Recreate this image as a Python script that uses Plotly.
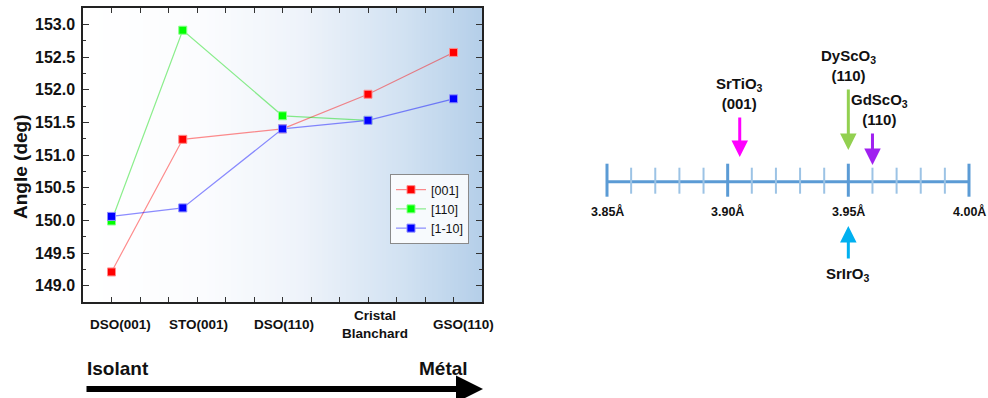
import plotly.graph_objects as go
import numpy as np

# ---------------- data ----------------
categories = ["DSO(001)", "STO(001)", "DSO(110)", "Cristal<br>Blanchard", "GSO(110)"]
cat_x = [0, 2.5, 6, 9, 12]            # position of each sample on the x axis
label_x = [0.3, 3.05, 6.05, 9.25, 12.35]  # where the sample names are written
series_names = ["[001]", "[110]", "[1-10]"]
angle_001 = [149.21, 151.24, 151.40, 151.93, 152.57]
angle_110 = [149.99, 152.91, 151.60, 151.53, None]
angle_1m10 = [150.06, 150.19, 151.40, 151.53, 151.86]
y_tick_vals = [149.0, 149.5, 150.0, 150.5, 151.0, 151.5, 152.0, 152.5, 153.0]

substrate_names = ["SrTiO<sub>3</sub><br>(001)", "DyScO<sub>3</sub><br>(110)",
                   "GdScO<sub>3</sub><br>(110)", "SrIrO<sub>3</sub>"]
substrate_a = [3.905, 3.95, 3.96, 3.95]      # pseudo-cubic lattice parameter (Å)
scale_major = [3.85, 3.90, 3.95, 4.00]
scale_minor = [3.86, 3.87, 3.88, 3.89, 3.91, 3.92, 3.93, 3.94,
               3.96, 3.97, 3.98, 3.99]
scale_labels = ["3.85Å", "3.90Å", "3.95Å", "4.00Å"]

FONT = "Liberation Sans, Arial, sans-serif"
W, H = 988, 398


def PX(x):
    return x / W


def PY(y):
    return (H - y) / H


fig = go.Figure()

# gradient background of the left panel
nb = 200
xe = np.linspace(-1, 13, nb + 1)
zc = np.linspace(0, 1, nb)
fig.add_trace(go.Heatmap(
    x=xe, y=[148.75, 153.25], z=[zc],
    colorscale=[[0, "#ffffff"], [0.3, "#fbfcfe"], [0.55, "#eef3fa"], [0.8, "#d2e2f2"], [1, "#b5cfe9"]],
    showscale=False, hoverinfo="skip", xaxis="x", yaxis="y"))

series = [(angle_001, "#ff0000", "rgba(255,0,0,0.45)", "#ff8c8c"),
          (angle_110, "#00ff00", "rgba(0,220,0,0.45)", "#8cff8c"),
          (angle_1m10, "#0000ff", "rgba(0,0,255,0.45)", "#8c8cff")]
for name, (vals, mc, lc, mlc) in zip(series_names, series):
    fig.add_trace(go.Scatter(
        x=cat_x, y=vals, name=name, mode="lines+markers",
        line=dict(color=lc, width=1.2),
        marker=dict(symbol="square", size=8, color=mc, line=dict(color=mlc, width=1)),
        xaxis="x", yaxis="y", connectgaps=False))

# number line of the right panel (y2 is in page pixels)
Y_LINE = 181.7
fig.add_trace(go.Scatter(x=[scale_major[0], scale_major[-1]], y=[Y_LINE, Y_LINE],
                         mode="lines", line=dict(color="#5b9bd5", width=3),
                         xaxis="x2", yaxis="y2", showlegend=False, hoverinfo="skip"))
mx, my = [], []
for v in scale_minor:
    mx += [v, v, None]
    my += [Y_LINE - 14, Y_LINE + 12, None]
fig.add_trace(go.Scatter(x=mx, y=my, mode="lines", line=dict(color="#9cc3e5", width=2),
                         xaxis="x2", yaxis="y2", showlegend=False, hoverinfo="skip"))
Mx, My = [], []
for v in scale_major:
    Mx += [v, v, None]
    My += [Y_LINE - 18, Y_LINE + 15, None]
fig.add_trace(go.Scatter(x=Mx, y=My, mode="lines", line=dict(color="#5b9bd5", width=3),
                         xaxis="x2", yaxis="y2", showlegend=False, hoverinfo="skip"))

ann = []
# category names
for lx, c in zip(label_x, categories):
    ann.append(dict(x=lx, y=PY(324), xref="x", yref="paper", text="<b>%s</b>" % c, showarrow=False,
                    font=dict(family=FONT, size=13.5, color="#111"), xanchor="center", yanchor="middle"))
# y title
ann.append(dict(x=PX(20), y=PY(167), xref="paper", yref="paper", text="<b>Angle (deg)</b>",
                textangle=-90, showarrow=False, font=dict(family=FONT, size=19, color="#111"),
                xanchor="center", yanchor="middle"))
# Isolant / Métal arrow
ann.append(dict(x=PX(85), y=PY(368), xref="paper", yref="paper", text="<b>Isolant</b>",
                showarrow=False, font=dict(family=FONT, size=19, color="#111"),
                xanchor="left", yanchor="middle"))
ann.append(dict(x=PX(470), y=PY(368), xref="paper", yref="paper", text="<b>Métal</b>",
                showarrow=False, font=dict(family=FONT, size=19, color="#111"),
                xanchor="right", yanchor="middle"))
ann.append(dict(x=PX(483), y=PY(389), xref="paper", yref="paper", text="",
                showarrow=True, ax=-398, ay=0, axref="pixel", ayref="pixel",
                arrowhead=2, arrowsize=0.9, arrowwidth=6, arrowcolor="#000"))

# number line labels
for v, t in zip(scale_major, scale_labels):
    ann.append(dict(x=v, y=211, xref="x2", yref="y2", text="<b>%s</b>" % t, showarrow=False,
                    font=dict(family=FONT, size=12.5, color="#111"), xanchor="center", yanchor="middle"))

# substrate arrows (tail y, tip y) and label placement
arrow_geom = [(116, 157, "#ff00ff", 114, "bottom", 0),
              (88, 150, "#92d050", 86, "bottom", 0),
              (132, 165, "#a020f0", 130, "bottom", 7),
              (260, 226, "#00b0f0", 263, "top", 0)]
for name, a, (tail, tip, col, ly, yanc, xs) in zip(substrate_names, substrate_a, arrow_geom):
    ann.append(dict(x=a, y=tip, ax=a, ay=tail, xref="x2", yref="y2", axref="x2", ayref="y2",
                    text="", showarrow=True, arrowhead=2, arrowsize=1.1, arrowwidth=3,
                    arrowcolor=col))
    ann.append(dict(x=a, y=ly, xref="x2", yref="y2", text="<b>%s</b>" % name, showarrow=False,
                    xshift=xs, font=dict(family=FONT, size=15, color="#111"),
                    xanchor="center", yanchor=yanc))

fig.update_layout(
    width=W, height=H, autosize=False,
    margin=dict(l=0, r=0, t=0, b=0),
    paper_bgcolor="white", plot_bgcolor="white",
    font=dict(family=FONT, color="#111"),
    showlegend=True,
    legend=dict(x=PX(390), y=PY(174), xanchor="left", yanchor="top",
                bgcolor="rgba(255,255,255,0.85)", bordercolor="#8a8a8a", borderwidth=1,
                font=dict(family=FONT, size=12.5, color="#111"), tracegroupgap=0,
                itemwidth=30),
    xaxis=dict(domain=[PX(83), PX(482)], range=[-1, 13], tickmode="linear", tick0=0, dtick=1,
               ticks="inside", ticklen=5, tickwidth=1.2, tickcolor="#333",
               showticklabels=False, showgrid=False, zeroline=False,
               showline=True, linecolor="#222", linewidth=1.5, mirror="allticks",
               automargin=False),
    yaxis=dict(domain=[PY(302), PY(8)], range=[148.75, 153.25],
               tickmode="array", tickvals=y_tick_vals,
               ticktext=["<b>%.1f</b>" % v for v in y_tick_vals],
               ticks="inside", ticklen=6, tickwidth=1.2, tickcolor="#333",
               minor=dict(dtick=0.25, tick0=149.0, ticks="inside", ticklen=3, tickcolor="#333"),
               tickfont=dict(family=FONT, size=16, color="#111"), ticklabelstandoff=3,
               showgrid=False, zeroline=False,
               showline=True, linecolor="#222", linewidth=1.5, mirror="allticks",
               automargin=False),
    xaxis2=dict(domain=[PX(600), PX(980)], range=[3.85 - 7 / 2413.3, 4.00 + 11 / 2413.3],
                visible=False, anchor="y2"),
    yaxis2=dict(domain=[0, 1], range=[H, 0], visible=False, anchor="x2"),
    annotations=ann,
)

fig.write_html("out.html", config={"displayModeBar": False},
               post_script="document.body.style.margin='0px';document.body.style.overflow='hidden';")
